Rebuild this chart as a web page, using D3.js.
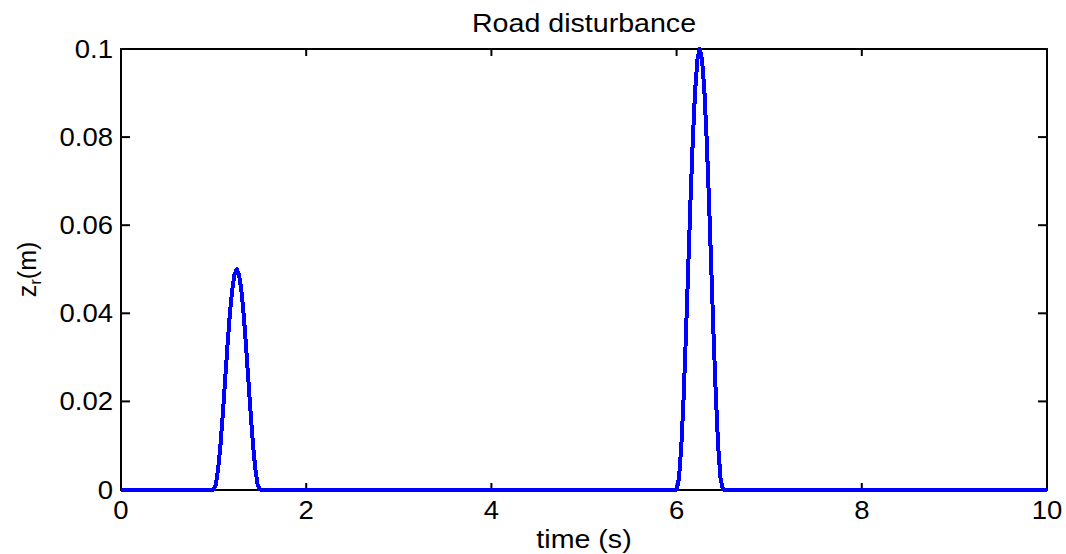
<!DOCTYPE html>
<html>
<head>
<meta charset="utf-8">
<script src="https://cdn.jsdelivr.net/npm/d3@7"></script>
<style>
  html, body { margin: 0; padding: 0; background: #fff; }
  svg { display: block; }
  text { font-family: "Liberation Sans", Arial, Helvetica, sans-serif; fill: #000; }
</style>
</head>
<body>
<svg id="chart" width="1066" height="554"></svg>
<script>
// Road profile samples: time (s) and vertical displacement z_r (m)
const time = [
  0,
  1.000, 1.025, 1.050, 1.075, 1.100, 1.125, 1.150, 1.175, 1.200, 1.225, 1.250,
  1.275, 1.300, 1.325, 1.350, 1.375, 1.400, 1.425, 1.450, 1.475, 1.500,
  6.000, 6.025, 6.050, 6.075, 6.100, 6.125, 6.150, 6.175, 6.200, 6.225, 6.250,
  6.275, 6.300, 6.325, 6.350, 6.375, 6.400, 6.425, 6.450, 6.475, 6.500,
  10
];
const zr = [
  0,
  0, 0.0012, 0.0048, 0.0103, 0.0173, 0.0250, 0.0327, 0.0397, 0.0452, 0.0488, 0.0500,
  0.0488, 0.0452, 0.0397, 0.0327, 0.0250, 0.0173, 0.0103, 0.0048, 0.0012, 0,
  0, 0.0024, 0.0095, 0.0206, 0.0345, 0.0500, 0.0655, 0.0794, 0.0905, 0.0976, 0.1000,
  0.0976, 0.0905, 0.0794, 0.0655, 0.0500, 0.0345, 0.0206, 0.0095, 0.0024, 0,
  0
];

const xTicks = [0, 2, 4, 6, 8, 10];
const yTicks = [0, 0.02, 0.04, 0.06, 0.08, 0.1];
const yTickLabels = ["0", "0.02", "0.04", "0.06", "0.08", "0.1"];

const titleText = "Road disturbance";
const xLabelText = "time (s)";

const svg = d3.select("#chart");
const plotL = 121, plotR = 1047, plotT = 49, plotB = 490;

const x = d3.scaleLinear().domain([0, 10]).range([plotL, plotR]);
const y = d3.scaleLinear().domain([0, 0.1]).range([plotB - 0.5, plotT]);

const FS = 25;      // tick label size
const FS_LBL = 26;  // title / axis label size
const SX = 1.1;     // glyphs are slightly wide

const place = (px, py) => `translate(${px},${py}) scale(${SX},1)`;

// axes box
svg.append("rect")
  .attr("x", plotL).attr("y", plotT)
  .attr("width", plotR - plotL).attr("height", plotB - plotT)
  .attr("fill", "none").attr("stroke", "#000").attr("stroke-width", 2);

// inward tick marks on all four sides
const tickG = svg.append("g").attr("stroke", "#000").attr("stroke-width", 2);
xTicks.forEach(t => {
  tickG.append("line").attr("x1", x(t)).attr("x2", x(t)).attr("y1", plotB).attr("y2", plotB - 7);
  tickG.append("line").attr("x1", x(t)).attr("x2", x(t)).attr("y1", plotT).attr("y2", plotT + 7);
});
yTicks.forEach(v => {
  tickG.append("line").attr("x1", plotL).attr("x2", plotL + 9).attr("y1", y(v)).attr("y2", y(v));
  tickG.append("line").attr("x1", plotR).attr("x2", plotR - 9).attr("y1", y(v)).attr("y2", y(v));
});

// tick labels
svg.append("g").selectAll("text").data(xTicks).join("text")
  .attr("transform", d => place(x(d), 519))
  .attr("text-anchor", "middle").attr("font-size", FS)
  .text(d => d);

svg.append("g").selectAll("text").data(yTicks).join("text")
  .attr("transform", d => place(113, y(d) + 9))
  .attr("text-anchor", "end").attr("font-size", FS)
  .text((d, i) => yTickLabels[i]);

// road profile
const line = d3.line().x((d, i) => x(time[i])).y(d => y(d));
svg.append("path")
  .datum(zr)
  .attr("d", line)
  .attr("fill", "none")
  .attr("stroke", "#0000ff")
  .attr("stroke-width", 4)
  .attr("stroke-linejoin", "round")
  .attr("shape-rendering", "crispEdges");

// title and axis labels
svg.append("text")
  .attr("transform", place((plotL + plotR) / 2, 32))
  .attr("text-anchor", "middle").attr("font-size", FS_LBL)
  .text(titleText);

svg.append("text")
  .attr("transform", place((plotL + plotR) / 2, 548))
  .attr("text-anchor", "middle").attr("font-size", FS_LBL)
  .text(xLabelText);

const yl = svg.append("text")
  .attr("transform", `translate(36, ${(plotT + plotB) / 2}) rotate(-90)`)
  .attr("text-anchor", "middle").attr("font-size", FS);
yl.append("tspan").text("z");
yl.append("tspan").attr("font-size", 17).attr("dy", 5).text("r");
yl.append("tspan").attr("dy", -5).text("(m)");
</script>
</body>
</html>
